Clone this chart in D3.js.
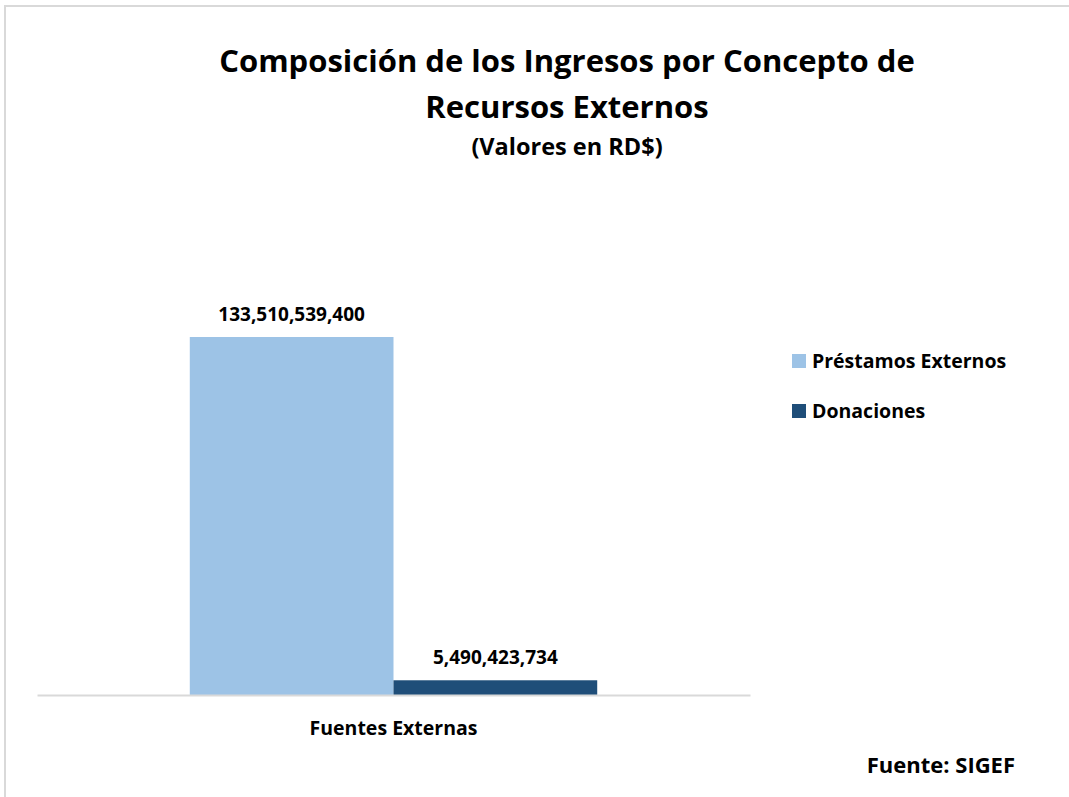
<!DOCTYPE html>
<html>
<head>
<meta charset="utf-8">
<script src="https://cdn.jsdelivr.net/npm/d3@7"></script>
<style>
  body { margin: 0; background: #fff; }
  svg text { font-family: "Open Sans", sans-serif; font-weight: bold; fill: #000; }
</style>
</head>
<body>
<svg width="1069" height="797"></svg>
<script>
const categories = ["Fuentes Externas"];
const seriesNames = ["Préstamos Externos", "Donaciones"];
const seriesValues = [133510539400, 5490423734];
const seriesColors = ["#9dc3e6", "#1f4e79"];

const svg = d3.select("svg");
const width = +svg.attr("width");
const height = +svg.attr("height");

// chart frame
svg.append("rect")
  .attr("x", 5)
  .attr("y", 6)
  .attr("width", width + 10)
  .attr("height", height + 10)
  .attr("fill", "none")
  .attr("stroke", "#d9d9d9")
  .attr("stroke-width", 2);

// titles
svg.append("text")
  .attr("x", 567).attr("y", 72)
  .attr("text-anchor", "middle")
  .style("font-size", "31px")
  .text("Composición de los Ingresos por Concepto de");
svg.append("text")
  .attr("x", 567).attr("y", 118)
  .attr("text-anchor", "middle")
  .style("font-size", "31px")
  .text("Recursos Externos");
svg.append("text")
  .attr("x", 567).attr("y", 155)
  .attr("text-anchor", "middle")
  .style("font-size", "23.5px")
  .text("(Valores en RD$)");

const x0 = d3.scaleBand()
  .domain(categories)
  .range([37, 750]);

const x1 = d3.scaleBand()
  .domain(seriesNames)
  .range([0, x0.bandwidth()])
  .paddingOuter(0.75);

const y = d3.scaleLinear()
  .domain([0, 133510539400])
  .range([695, 337]);

const data = seriesNames.map((s, i) => ({ cat: categories[0], name: s, value: seriesValues[i], color: seriesColors[i] }));

const bars = svg.append("g");
bars.selectAll("rect")
  .data(data)
  .join("rect")
  .attr("x", d => x0(d.cat) + x1(d.name))
  .attr("y", d => y(d.value))
  .attr("width", x1.bandwidth())
  .attr("height", d => y(0) - y(d.value))
  .attr("fill", d => d.color);

bars.selectAll("text")
  .data(data)
  .join("text")
  .attr("x", d => x0(d.cat) + x1(d.name) + x1.bandwidth() / 2)
  .attr("y", d => y(d.value) - 16)
  .attr("text-anchor", "middle")
  .style("font-size", "19px")
  .text(d => d3.format(",")(d.value));

// category axis
const xAxis = svg.append("g")
  .attr("transform", `translate(0,${y(0)})`)
  .call(d3.axisBottom(x0).tickSize(0).tickPadding(26));
xAxis.select(".domain").attr("stroke", "#d9d9d9").attr("stroke-width", 2);
xAxis.selectAll("text")
  .style("font-size", "19.5px")
  .attr("font-family", null);

// legend
const legend = svg.append("g").attr("transform", "translate(792,354)");
const items = legend.selectAll("g")
  .data(data)
  .join("g")
  .attr("transform", (d, i) => `translate(0,${i * 50})`);
items.append("rect")
  .attr("width", 14).attr("height", 14)
  .attr("fill", d => d.color);
items.append("text")
  .attr("x", 20).attr("y", 14)
  .style("font-size", "19.5px")
  .text(d => d.name);

svg.append("text")
  .attr("x", 1015).attr("y", 773)
  .attr("text-anchor", "end")
  .style("font-size", "22px")
  .text("Fuente: SIGEF");
</script>
</body>
</html>
